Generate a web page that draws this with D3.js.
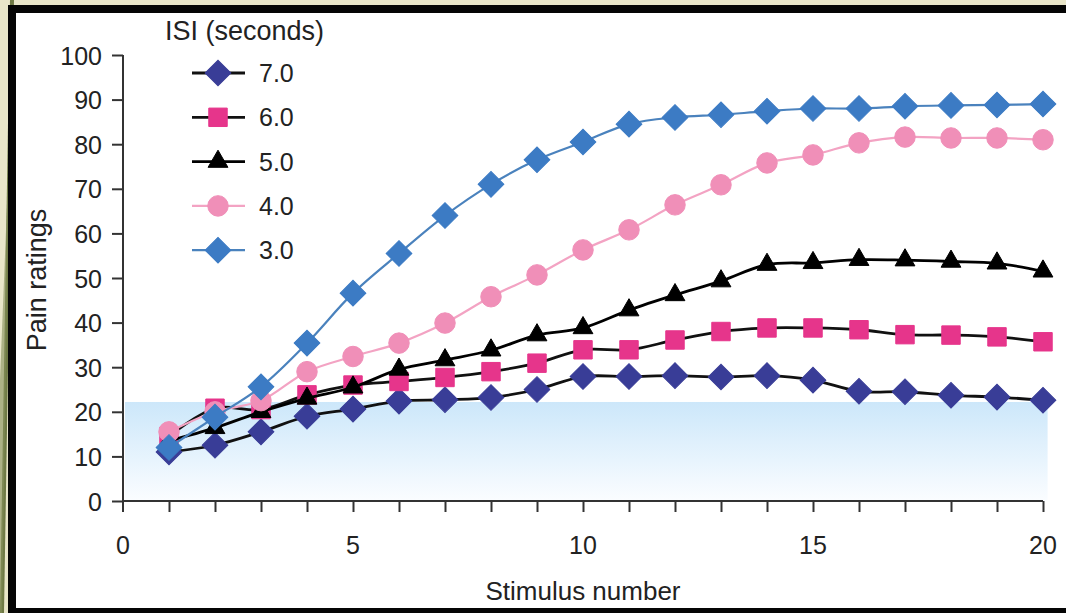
<!DOCTYPE html>
<html>
<head>
<meta charset="utf-8">
<script src="https://cdn.jsdelivr.net/npm/d3@7"></script>
<style>
  body { margin: 0; background: #e9e6c9; }
  svg { display: block; font-family: "Liberation Sans", Arial, sans-serif; }
</style>
</head>
<body>
<svg id="chart" width="1066" height="613"></svg>
<script>
// stimulus numbers 1..20
var stimulus = [1,2,3,4,5,6,7,8,9,10,11,12,13,14,15,16,17,18,19,20];

// pain ratings per ISI (seconds)
var isi7 = [11, 12.5, 15.5, 19, 20.6, 22.4, 22.7, 23.2, 25, 27.9, 27.9, 28.1, 27.8, 28.1, 27.1, 24.6, 24.5, 23.7, 23.3, 22.6];
var isi6 = [14.5, 20.8, 20.5, 23.8, 26, 26.8, 27.7, 29, 30.9, 33.9, 33.9, 36.1, 38, 38.8, 38.8, 38.4, 37.3, 37.2, 36.8, 35.7];
var isi5 = [13.5, 16.4, 20, 23, 25.5, 29.5, 31.6, 33.8, 37.2, 38.8, 42.8, 46.2, 49.3, 53, 53.4, 54.1, 54, 53.7, 53.3, 51.5];
var isi4 = [15.5, 20, 22.5, 29, 32.4, 35.4, 39.9, 45.8, 50.7, 56.3, 60.8, 66.4, 70.9, 75.8, 77.6, 80.3, 81.6, 81.4, 81.4, 81];
var isi3 = [12, 18.8, 25.6, 35.4, 46.6, 55.5, 64, 71, 76.5, 80.5, 84.5, 86, 86.6, 87.4, 88, 88, 88.5, 88.7, 88.8, 89];

var seriesNames = ["7.0", "6.0", "5.0", "4.0", "3.0"];
var seriesValues = [isi7, isi6, isi5, isi4, isi3];
var xTicks = [0, 5, 10, 15, 20];
var yTicks = [0, 10, 20, 30, 40, 50, 60, 70, 80, 90, 100];
var baselineBand = 22.2; // top of the shaded band

var styles = {
  "7.0": { shape: "diamond",  fill: "#393d97", line: "#111", width: 2.8 },
  "6.0": { shape: "square",   fill: "#e6358b", line: "#111", width: 2.8 },
  "5.0": { shape: "triangle", fill: "#000",    line: "#000", width: 2.8 },
  "4.0": { shape: "circle",   fill: "#f08fb8", line: "#f3a3c3", width: 2.2 },
  "3.0": { shape: "diamond",  fill: "#3c7bc4", line: "#4a82bd", width: 2.2 }
};

var svg = d3.select("#chart");

// slide background and frame
svg.append("rect").attr("width", 1066).attr("height", 613).attr("fill", "#e9e6c9");
svg.append("path").attr("d", "M0,613 L10,0 L14,0 L4,613 Z").attr("fill", "#6f7a45");
svg.append("path").attr("d", "M0,380 L8,180 L8,230 L2,613 L0,613 Z").attr("fill", "#86905a").attr("opacity", 0.6);
svg.append("rect").attr("x", 8).attr("y", 5).attr("width", 1070).attr("height", 620).attr("fill", "#050505");
svg.append("rect").attr("x", 16).attr("y", 13).attr("width", 1060).attr("height", 595).attr("fill", "#ffffff");

var x = d3.scaleLinear().domain([0, 20]).range([123, 1043]);
var y = d3.scaleLinear().domain([0, 100]).range([501, 55]);

// shaded band
var grad = svg.append("defs").append("linearGradient")
  .attr("id", "band").attr("x1", 0).attr("y1", 0).attr("x2", 0).attr("y2", 1);
grad.append("stop").attr("offset", "0%").attr("stop-color", "#cce7fa");
grad.append("stop").attr("offset", "100%").attr("stop-color", "#fbfdff");
svg.append("rect")
  .attr("x", x(0) + 2).attr("y", y(baselineBand))
  .attr("width", x(20.1) - x(0) - 2).attr("height", y(0) - y(baselineBand))
  .attr("fill", "url(#band)");

// y axis
var yAxis = svg.append("g").attr("transform", "translate(" + x(0) + ",0)")
  .call(d3.axisLeft(y).tickValues(yTicks).tickSize(11).tickPadding(10));
yAxis.select(".domain").attr("d", "M0," + y(100) + "V" + (y(0) + 11));
yAxis.selectAll("line, path").attr("stroke", "#333").attr("stroke-width", 2);
yAxis.selectAll("text").attr("font-size", 25).attr("fill", "#222").attr("dy", "0.36em");

// x axis
var xAxis = svg.append("g").attr("transform", "translate(0," + y(0) + ")")
  .call(d3.axisBottom(x).tickValues(stimulus).tickSize(11).tickFormat(""));
xAxis.select(".domain").attr("d", "M" + x(0) + ",0H" + x(20));
xAxis.selectAll("line, path").attr("stroke", "#333").attr("stroke-width", 2);
svg.append("g").selectAll("text").data(xTicks).join("text")
  .attr("x", function (d) { return x(d); })
  .attr("y", y(0) + 53)
  .attr("text-anchor", "middle")
  .attr("font-size", 25).attr("fill", "#222")
  .text(function (d) { return d; });

// axis titles
svg.append("text")
  .attr("transform", "translate(46," + (y(50) + 2) + ") rotate(-90)")
  .attr("text-anchor", "middle").attr("font-size", 27).attr("fill", "#222")
  .text("Pain ratings");
svg.append("text")
  .attr("x", 583).attr("y", 600)
  .attr("text-anchor", "middle").attr("font-size", 26).attr("fill", "#222")
  .text("Stimulus number");

function symbolFor(shape) {
  if (shape === "diamond") return d3.symbol(d3.symbolSquare, 330);
  if (shape === "square") return d3.symbol(d3.symbolSquare, 340);
  if (shape === "triangle") return d3.symbol(d3.symbolTriangle, 170);
  return d3.symbol(d3.symbolCircle, 330);
}
function rot(shape) { return shape === "diamond" ? " rotate(45)" : ""; }

var line = d3.line()
  .x(function (d, i) { return x(stimulus[i]); })
  .y(function (d) { return y(d); })
  .curve(d3.curveCatmullRom.alpha(0.5));

seriesNames.forEach(function (name, k) {
  var st = styles[name];
  var vals = seriesValues[k];
  var g = svg.append("g");
  g.append("path").attr("d", line(vals))
    .attr("fill", "none").attr("stroke", st.line).attr("stroke-width", st.width);
  g.selectAll("path.mark").data(vals).join("path").attr("class", "mark")
    .attr("d", symbolFor(st.shape))
    .attr("transform", function (d, i) { return "translate(" + x(stimulus[i]) + "," + y(d) + ")" + rot(st.shape); })
    .attr("fill", st.fill).attr("stroke", st.fill).attr("stroke-width", 1);
});

// legend
var legend = svg.append("g");
legend.append("text").attr("x", 165).attr("y", 40).attr("font-size", 27).attr("fill", "#222")
  .text("ISI (seconds)");
seriesNames.forEach(function (name, k) {
  var st = styles[name];
  var ly = 73 + k * 44.3;
  legend.append("line").attr("x1", 192).attr("x2", 245).attr("y1", ly).attr("y2", ly)
    .attr("stroke", st.line).attr("stroke-width", st.width);
  legend.append("path").attr("d", symbolFor(st.shape)())
    .attr("transform", "translate(218," + ly + ")" + rot(st.shape))
    .attr("fill", st.fill).attr("stroke", st.fill);
  legend.append("text").attr("x", 259).attr("y", ly).attr("dy", "0.36em")
    .attr("font-size", 25).attr("fill", "#222").text(name);
});
</script>
</body>
</html>
